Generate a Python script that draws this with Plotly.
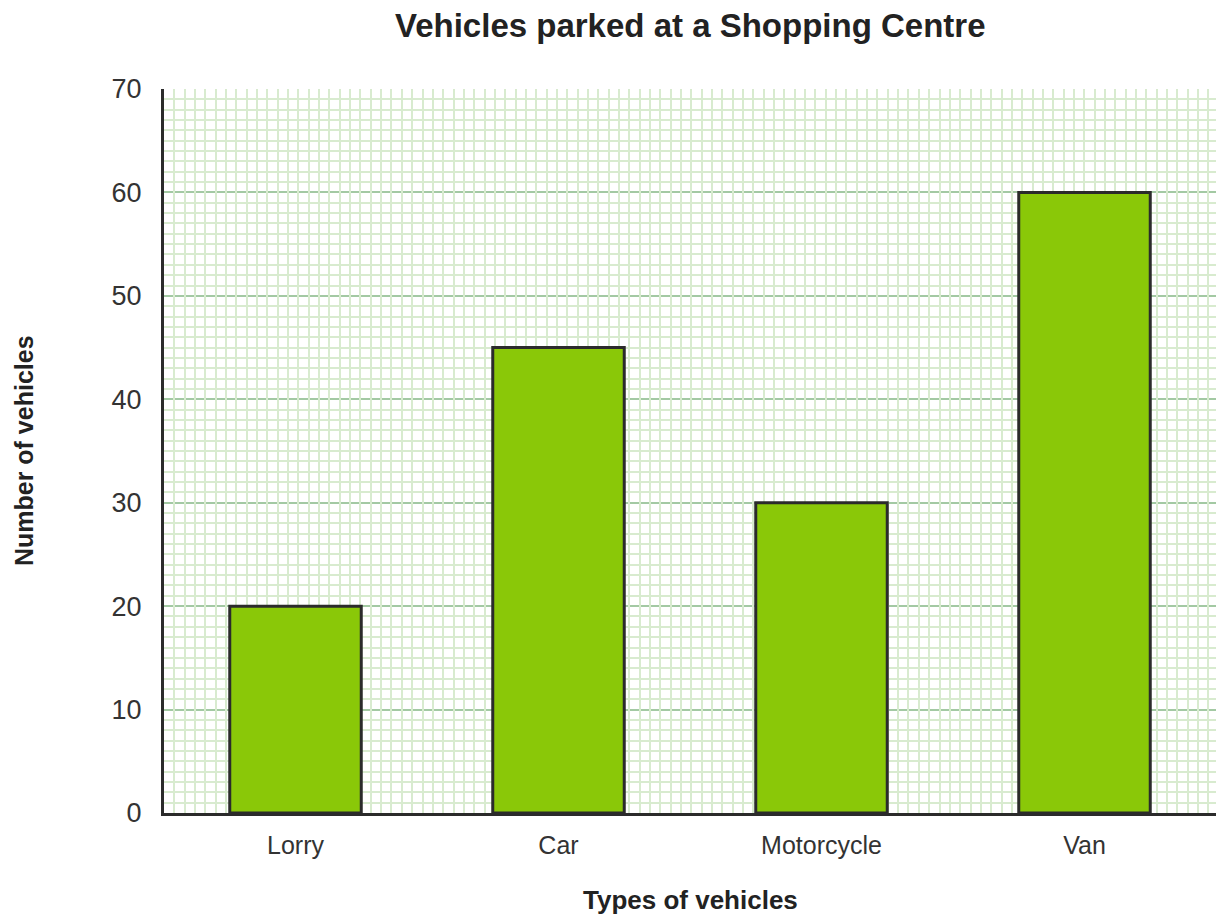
import plotly.graph_objects as go

# data
vehicles = ["Lorry", "Car", "Motorcycle", "Van"]
counts = [20, 45, 30, 60]
y_ticks = [0, 10, 20, 30, 40, 50, 60, 70]

font = "Liberation Sans, Arial, sans-serif"
major_grid = "#a3c9a3"
minor_grid = "#d8ebcf"
dark = "#2b2b2b"

fig = go.Figure()
fig.add_trace(go.Bar(x=vehicles, y=counts, width=0.5,
                     marker=dict(color="#8ac808", line=dict(color=dark, width=3)),
                     hoverinfo="x+y"))
# invisible trace so the overlay axis for the vertical fine grid is drawn
fig.add_trace(go.Scatter(x=[0], y=[0], xaxis="x2", mode="markers",
                         marker=dict(opacity=0), hoverinfo="skip", showlegend=False))

fig.update_layout(
    width=1224, height=922,
    margin=dict(l=156, r=16, t=81, b=117),
    plot_bgcolor="white", paper_bgcolor="white",
    showlegend=False,
    xaxis=dict(range=[-0.5, 3.5], showgrid=False, showline=True, linecolor=dark, linewidth=3,
               ticks="", ticklabelstandoff=8, tickfont=dict(family=font, size=25, color="#333")),
    xaxis2=dict(overlaying="x", range=[0, 1052 / 10.34], dtick=1, showgrid=True,
                gridcolor=minor_grid, gridwidth=2, showticklabels=False, zeroline=False,
                showline=False, ticks=""),
    yaxis=dict(range=[0, 70], tickvals=y_ticks, showgrid=True, gridcolor=major_grid, gridwidth=2,
               minor=dict(dtick=1, showgrid=True, gridcolor=minor_grid, gridwidth=2),
               zeroline=False, showline=True, linecolor=dark, linewidth=3, ticks="",
               ticklabelstandoff=14, tickfont=dict(family=font, size=27, color="#333")),
    annotations=[
        dict(text="<b>Vehicles parked at a Shopping Centre</b>", xref="paper", yref="paper",
             x=0.5, y=1.088, xanchor="center", yanchor="middle", showarrow=False,
             font=dict(family=font, size=33, color="#222")),
        dict(text="<b>Types of vehicles</b>", xref="paper", yref="paper",
             x=0.5, y=-0.12, xanchor="center", yanchor="middle", showarrow=False,
             font=dict(family=font, size=26, color="#222")),
        dict(text="<b>Number of vehicles</b>", xref="paper", yref="paper",
             x=-0.133, y=0.5, xanchor="center", yanchor="middle", showarrow=False,
             textangle=-90, font=dict(family=font, size=25, color="#222")),
    ],
)

fig.write_html("out.html")
